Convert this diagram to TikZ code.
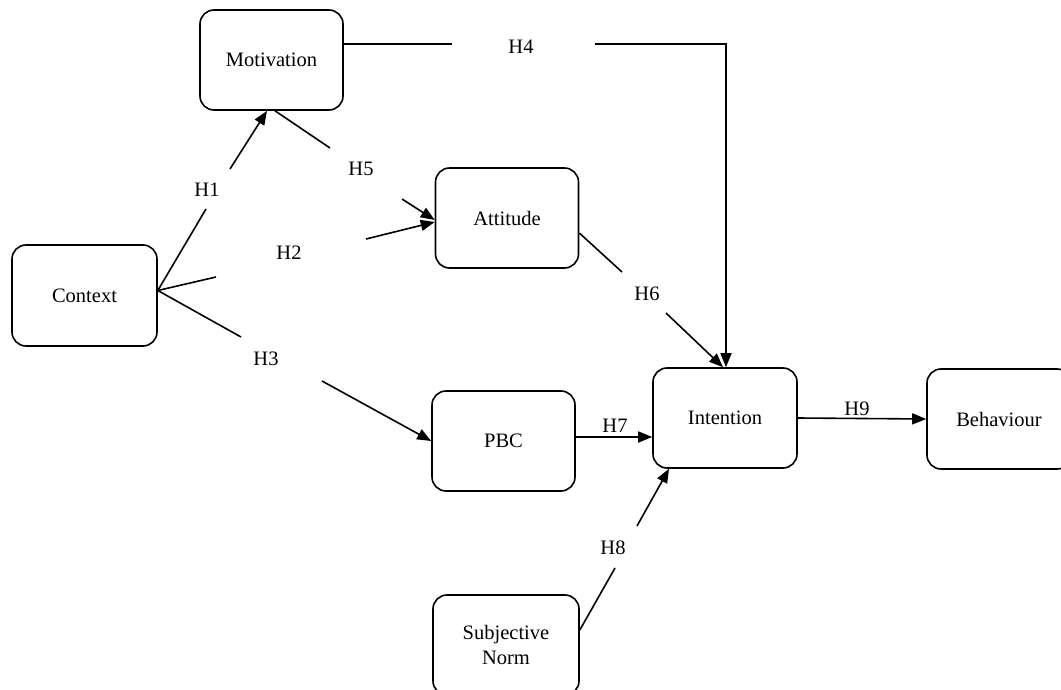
\documentclass[tikz,border=0pt]{standalone}
\usepackage{fontspec}
\setmainfont{Liberation Serif}
\usetikzlibrary{arrows.meta}
\begin{document}
\begin{tikzpicture}[x=1pt,y=-1pt,
  box/.style={draw, line width=1.6pt, rounded corners=14pt, minimum width=143pt, minimum height=100pt, align=center, font=\fontsize{20.5}{25}\selectfont, inner sep=0pt},
  lbl/.style={font=\fontsize{20.5}{25}\selectfont, inner sep=0pt},
  ln/.style={line width=1.6pt},
  arr/.style={line width=1.6pt, -{Triangle[length=14pt,width=11pt]}}]
\useasboundingbox (0,0) rectangle (1061,690);
\clip (0,0) rectangle (1061,690);
% boxes
\node[box] (mot) at (271.5,60) {Motivation};
\node[box] (att) at (507,218) {Attitude};
\node[box, minimum width=145pt, minimum height=101pt] (ctx) at (84.5,295.5) {Context};
\node[box] (pbc) at (503.5,441) {PBC};
\node[box, minimum width=144pt] (int) at (725,418) {Intention};
\node[box, minimum width=144pt] (beh) at (999,419) {Behaviour};
\node[box, minimum width=146pt, minimum height=100pt, text depth=0pt] (sn) at (506,645) {Subjective\\Norm};
% labels
\node[lbl] (h1) at (207,190) {H1};
\node[lbl] (h2) at (289,253) {H2};
\node[lbl] (h3) at (266,359) {H3};
\node[lbl] (h4) at (521,47) {H4};
\node[lbl] (h5) at (361,169) {H5};
\node[lbl] (h6) at (647,294) {H6};
\node[lbl] (h7) at (615,426) {H7};
\node[lbl] (h8) at (613,548) {H8};
\node[lbl] (h9) at (857,409) {H9};
% break points
\coordinate (c0) at ([yshift=5pt]ctx.east);
\coordinate (h1a) at (206,209);
\coordinate (h1b) at (230,169);
\coordinate (h2a) at (216,277);
\coordinate (h2b) at (366,239);
\coordinate (h3a) at (241,337);
\coordinate (h3b) at (322,381);
\coordinate (h4a) at (452,44);
\coordinate (h4b) at (595,44);
\coordinate (h4c) at (726,44);
\coordinate (h5a) at (330,148);
\coordinate (h5b) at (402,199);
\coordinate (h6a) at (622,272);
\coordinate (h6b) at (666,313);
\coordinate (h8a) at (615,568);
\coordinate (h8b) at (637,526);
% connectors
\draw[ln] (c0) -- (h1a);
\draw[arr] (h1b) -- ([xshift=-4.5pt]mot.south);
\draw[ln] (c0) -- (h2a);
\draw[arr] (h2b) -- ([yshift=-4pt]att.west);
\draw[ln] (c0) -- (h3a);
\draw[arr] (h3b) -- (pbc.west);
\draw[ln] ([yshift=16pt]mot.east) -- (h4a);
\draw[arr] (h4b) -- (h4c) -- ([xshift=1pt]int.north);
\draw[ln] ([xshift=3.5pt]mot.south) -- (h5a);
\draw[arr] (h5b) -- ([yshift=-2pt]att.west);
\draw[ln] ([yshift=-15pt]att.east) -- (h6a);
\draw[arr] (h6b) -- ([xshift=-2pt]int.north);
\draw[arr] ([yshift=4pt]pbc.east) -- ([yshift=-19pt]int.west);
\draw[ln] ([yshift=15pt]sn.east) -- (h8a);
\draw[arr] (h8b) -- ([xshift=-56pt]int.south);
\draw[arr] (int.east) -- (beh.west);
\end{tikzpicture}
\end{document}
